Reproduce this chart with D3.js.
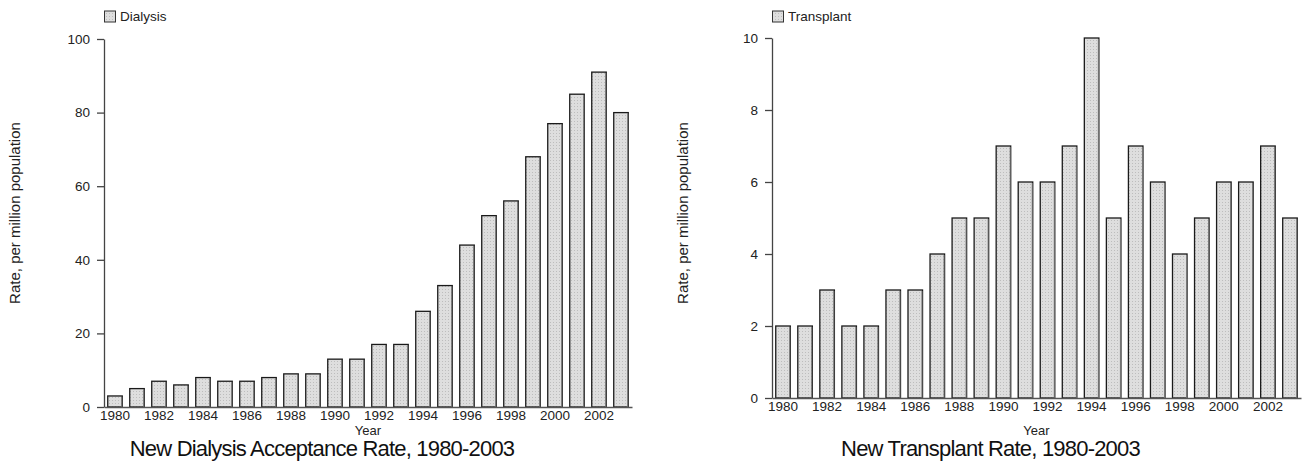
<!DOCTYPE html>
<html>
<head>
<meta charset="utf-8">
<script src="https://cdn.jsdelivr.net/npm/d3@7"></script>
<style>
  body { margin: 0; background: #fff; }
  svg { display: block; font-family: "Liberation Sans", Arial, sans-serif; }
</style>
</head>
<body>
<svg id="chart" width="1303" height="466"></svg>
<script>
// data
const years = d3.range(1980, 2004);
const yearLabels = [1980, 1982, 1984, 1986, 1988, 1990, 1992, 1994, 1996, 1998, 2000, 2002];
const dialysisRates = [3, 5, 7, 6, 8, 7, 7, 8, 9, 9, 13, 13, 17, 17, 26, 33, 44, 52, 56, 68, 77, 85, 91, 80];
const transplantRates = [2, 2, 3, 2, 2, 3, 3, 4, 5, 5, 7, 6, 6, 7, 10, 5, 7, 6, 4, 5, 6, 6, 7, 5];
const dialysisTicks = [0, 20, 40, 60, 80, 100];
const transplantTicks = [0, 2, 4, 6, 8, 10];

const svg = d3.select("#chart");

// dotted grey fill like the original bars
const pat = svg.append("defs").append("pattern")
  .attr("id", "dots")
  .attr("width", 3).attr("height", 3)
  .attr("patternUnits", "userSpaceOnUse");
pat.append("rect").attr("width", 3).attr("height", 3).attr("fill", "#dedede");
pat.append("rect").attr("x", 1).attr("y", 1).attr("width", 1).attr("height", 1).attr("fill", "#bdbdbd");

drawChart({
  values: dialysisRates,
  ticks: dialysisTicks,
  domain: [0, 100],
  x0: 104, x1: 632,
  yTop: 39, yBottom: 407,
  legend: "Dialysis",
  title: "New Dialysis Acceptance Rate, 1980-2003",
  labelX: 20
});

drawChart({
  values: transplantRates,
  ticks: transplantTicks,
  domain: [0, 10],
  x0: 772, x1: 1301,
  yTop: 38, yBottom: 398,
  legend: "Transplant",
  title: "New Transplant Rate, 1980-2003",
  labelX: 688
});

function drawChart(o) {
  const g = svg.append("g");

  const x = d3.scaleBand()
    .domain(years)
    .range([o.x0, o.x1])
    .paddingInner(0.34)
    .paddingOuter(0.17);

  const y = d3.scaleLinear()
    .domain(o.domain)
    .range([o.yBottom, o.yTop]);

  // bars
  g.append("g")
    .selectAll("rect")
    .data(o.values)
    .join("rect")
      .attr("x", (d, i) => x(years[i]))
      .attr("y", d => y(d))
      .attr("width", x.bandwidth())
      .attr("height", d => y(0) - y(d))
      .attr("fill", "url(#dots)")
      .attr("stroke", "#1a1a1a")
      .attr("stroke-width", 1.3);

  // right-edge shading
  g.append("g")
    .selectAll("line")
    .data(o.values)
    .join("line")
      .attr("x1", (d, i) => x(years[i]) + x.bandwidth() - 0.5)
      .attr("x2", (d, i) => x(years[i]) + x.bandwidth() - 0.5)
      .attr("y1", d => y(d) + 1)
      .attr("y2", y(0))
      .attr("stroke", "#777")
      .attr("stroke-width", 1);

  // y axis
  g.append("g")
    .attr("transform", `translate(${o.x0},0)`)
    .call(d3.axisLeft(y).tickValues(o.ticks).tickSize(7).tickPadding(7).tickSizeOuter(0))
    .call(a => a.selectAll("path, line").attr("stroke", "#444").attr("stroke-width", 1.3))
    .call(a => a.selectAll("text").attr("font-size", 13.5).attr("fill", "#222")
      .attr("font-family", "Liberation Sans, Arial, sans-serif"));

  // x axis
  g.append("g")
    .attr("transform", `translate(0,${o.yBottom})`)
    .call(d3.axisBottom(x).tickValues(yearLabels).tickSize(0).tickPadding(3).tickSizeOuter(0))
    .call(a => a.select(".domain").attr("stroke", "#555").attr("stroke-width", 1.5))
    .call(a => a.selectAll("text").attr("font-size", 13.5).attr("fill", "#222")
      .attr("font-family", "Liberation Sans, Arial, sans-serif"));

  const mid = (o.x0 + o.x1) / 2;

  g.append("text")
    .attr("x", mid)
    .attr("y", 435)
    .attr("text-anchor", "middle")
    .attr("font-size", 13)
    .attr("fill", "#222")
    .text("Year");

  g.append("text")
    .attr("x", mid - 46)
    .attr("y", 456)
    .attr("text-anchor", "middle")
    .attr("font-size", 22)
    .attr("letter-spacing", -0.8)
    .attr("fill", "#111")
    .text(o.title);

  g.append("text")
    .attr("transform", `translate(${o.labelX},213) rotate(-90)`)
    .attr("text-anchor", "middle")
    .attr("font-size", 15)
    .attr("fill", "#222")
    .text("Rate, per million population");

  // legend
  g.append("rect")
    .attr("x", o.x0 + 0.5)
    .attr("y", 11)
    .attr("width", 11)
    .attr("height", 11)
    .attr("fill", "url(#dots)")
    .attr("stroke", "#333")
    .attr("stroke-width", 1);

  g.append("text")
    .attr("x", o.x0 + 16)
    .attr("y", 21)
    .attr("font-size", 13.5)
    .attr("fill", "#222")
    .text(o.legend);
}
</script>
</body>
</html>
